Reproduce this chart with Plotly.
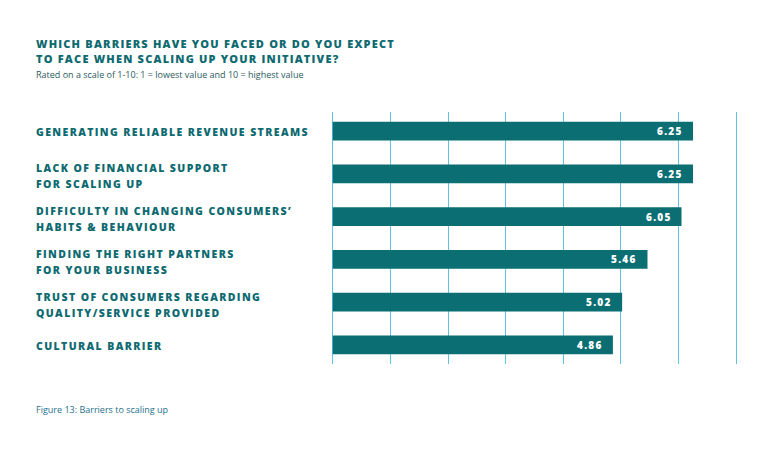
import plotly.graph_objects as go

# ---- data ----
categories = [
    ["GENERATING RELIABLE REVENUE STREAMS"],
    ["LACK OF FINANCIAL SUPPORT", "FOR SCALING UP"],
    ["DIFFICULTY IN CHANGING CONSUMERS’", "HABITS & BEHAVIOUR"],
    ["FINDING THE RIGHT PARTNERS", "FOR YOUR BUSINESS"],
    ["TRUST OF CONSUMERS REGARDING", "QUALITY/SERVICE PROVIDED"],
    ["CULTURAL BARRIER"],
]
values = [6.25, 6.25, 6.05, 5.46, 5.02, 4.86]
value_labels = ["6.25", "6.25", "6.05", "5.46", "5.02", "4.86"]
x_ticks = [0, 1, 2, 3, 4, 5, 6, 7]

title_lines = ["WHICH BARRIERS HAVE YOU FACED OR DO YOU EXPECT",
               "TO FACE WHEN SCALING UP YOUR INITIATIVE?"]
subtitle = "Rated on a scale of 1-10: 1 = lowest value and 10 = highest value"
caption = "Figure 13: Barriers to scaling up"

# ---- style ----
TEAL = "#0a6e72"
TEXT = "#0e6a70"
GRID = "#5cc4e2"
FONT = "Open Sans"
OFF = 8  # page body margin offset
W, H = 779 - OFF, 469 - OFF
L, R, T, B = 331 - OFF, 41, 112 - OFF, 105
PW = W - L - R
PH = H - T - B

def px_x(px):
    return (px - OFF - L) / PW

def px_y(py):
    return (H - B - (py - OFF)) / PH

def spaced(s, ls):
    return f'<span style="letter-spacing:{ls}px">{s}</span>'

y_idx = list(range(len(values)))

fig = go.Figure(go.Bar(
    x=values, y=y_idx, orientation="h",
    marker=dict(color=TEAL, line=dict(width=0)),
    width=0.44, hoverinfo="skip",
))

ann = []
# category labels
for i, lines in enumerate(categories):
    n = len(lines)
    for j, line in enumerate(lines):
        ann.append(dict(
            x=px_x(34), xref="paper", y=i, yref="y",
            xanchor="left", yanchor="middle", showarrow=False,
            yshift=(n - 1) / 2 * 8 - j * 16 + (1.5 if n > 1 else -1),
            text=spaced(line, 1.4),
            font=dict(family=FONT, size=10.5, color=TEXT, weight=800),
        ))
# value labels
for i, (v, lab) in enumerate(zip(values, value_labels)):
    ann.append(dict(
        x=v, xref="x", y=i, yref="y", xanchor="right", yanchor="middle",
        xshift=-8, showarrow=False,
        text=spaced(lab, 1.3),
        font=dict(family=FONT, size=10, color="white", weight=800),
    ))
# title
for j, line in enumerate(title_lines):
    ann.append(dict(
        x=px_x(34), xref="paper", y=px_y(43 + j * 15), yref="paper",
        xanchor="left", yanchor="middle", showarrow=False,
        text=spaced(line, 1.2),
        font=dict(family=FONT, size=11, color=TEXT, weight=800),
    ))
ann.append(dict(
    x=px_x(34), xref="paper", y=px_y(74), yref="paper",
    xanchor="left", yanchor="middle", showarrow=False,
    text=subtitle, font=dict(family=FONT, size=9, color="#2b5a60"),
))
ann.append(dict(
    x=px_x(34), xref="paper", y=px_y(409), yref="paper",
    xanchor="left", yanchor="middle", showarrow=False,
    text=caption, font=dict(family=FONT, size=9, color="#24708a"),
))

fig.update_layout(
    width=W, height=H,
    margin=dict(l=L, r=R, t=T, b=B, pad=0),
    paper_bgcolor="white", plot_bgcolor="white",
    showlegend=False,
    annotations=ann,
    xaxis=dict(range=[-0.03, 7.03], tickvals=x_ticks, showticklabels=False,
               showgrid=True, gridcolor=GRID, gridwidth=1,
               zeroline=True, zerolinecolor=GRID, zerolinewidth=1,
               showline=False, fixedrange=True),
    yaxis=dict(range=[len(values) - 0.55, -0.45], showticklabels=False,
               showgrid=False, zeroline=False, showline=False, fixedrange=True),
)

fig.write_html("out.html")
